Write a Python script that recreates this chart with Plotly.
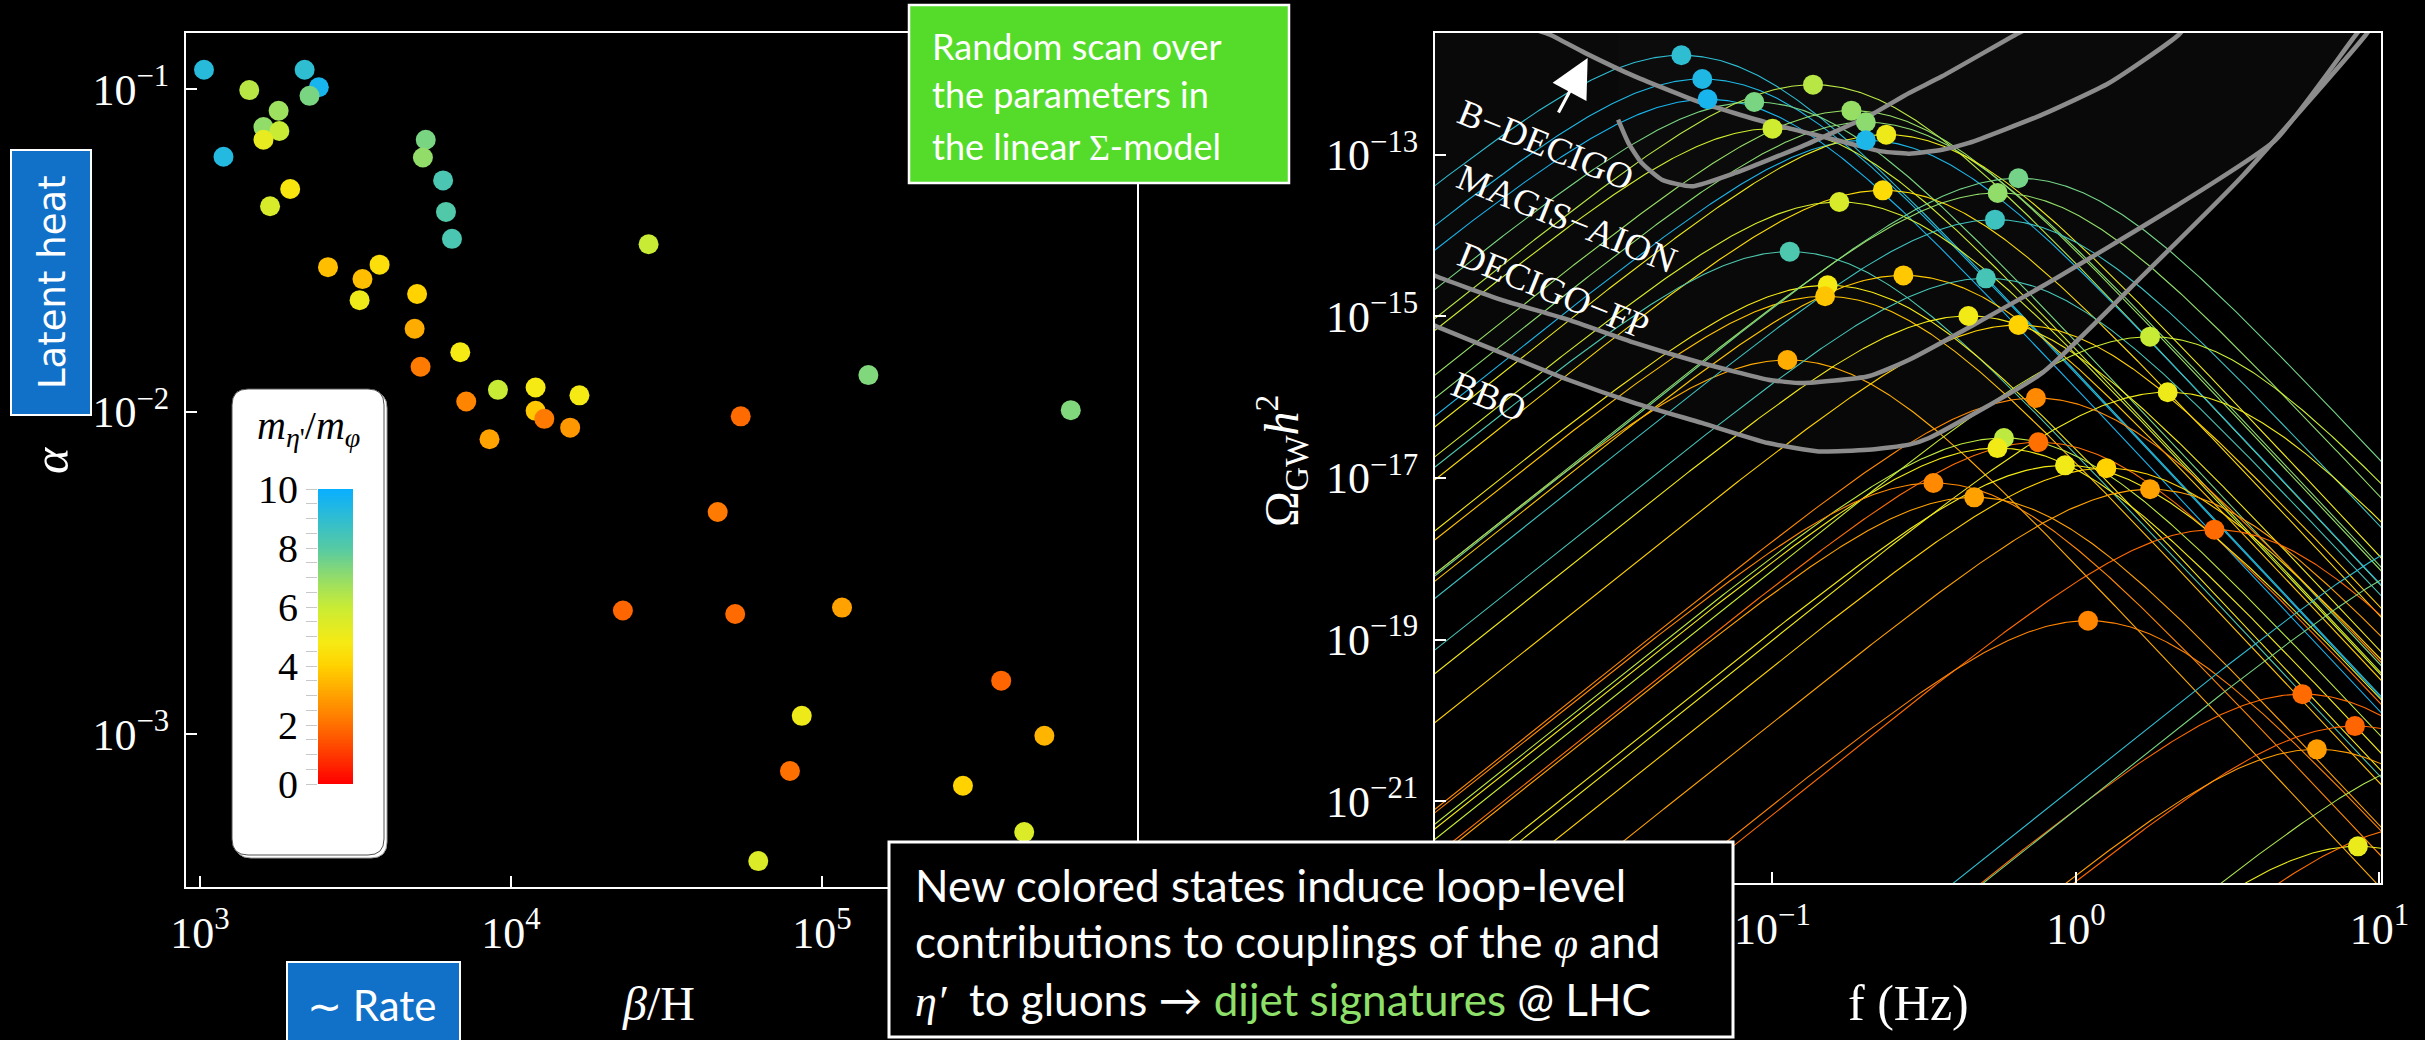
import numpy as np
import plotly.graph_objects as go

W, H = 2425, 1040
def px(x): return x / W
def py(y): return 1 - y / H

# ---------------- left panel : alpha vs beta/H ----------------
beta_H = [1030, 1440, 2170, 2410, 2250, 1790, 1600, 1800, 1600, 1190, 1950, 1680,
          5320, 5210, 6050, 6180, 6460, 27700, 2580, 3780, 3330, 3260, 4990, 4900,
          5120, 6870, 9080, 7180, 12000, 12000, 12800, 16600, 15500, 8530, 22900,
          141000, 54800, 631000, 46200, 52600, 116000, 377000, 86100, 519000, 78900,
          284000, 447000, 62400]
alpha = [0.1151, 0.0995, 0.1151, 0.1016, 0.0955, 0.0859, 0.0764, 0.0743, 0.0698, 0.0618,
         0.0491, 0.0434, 0.0698, 0.0615, 0.0522, 0.0417, 0.0344, 0.0331, 0.0281, 0.0286,
         0.0258, 0.0222, 0.0232, 0.0181, 0.0138, 0.0153, 0.0117, 0.01076, 0.0119, 0.01007,
         0.00951, 0.01125, 0.00893, 0.00822, 0.00242, 0.0130, 0.00968, 0.01012, 0.00489,
         0.00236, 0.00247, 0.001466, 0.00114, 0.000989, 0.000769, 0.000692, 0.000497, 0.000404]
ratio_left = [9.2, 6.3, 9.0, 9.6, 7.4, 6.8, 7.0, 6.0, 5.2, 9.3, 4.6, 5.6,
              7.4, 7.0, 8.3, 8.1, 8.3, 6.0, 3.6, 4.4, 3.6, 5.0, 4.0, 3.2,
              2.2, 4.8, 6.0, 2.4, 4.8, 3.8, 2.2, 4.8, 2.8, 3.0, 1.8,
              7.3, 1.9, 7.3, 2.2, 1.9, 3.0, 1.8, 5.0, 3.4, 2.0,
              4.0, 5.5, 5.5]

# ---------------- right panel : GW spectra peaks ----------------
f_peak = [0.0501, 0.0587, 0.0611, 0.0871, 0.136, 0.100, 0.182, 0.203, 0.203, 0.237,
          0.231, 0.166, 0.114, 0.152, 0.149, 0.270, 0.112, 0.646, 0.552, 0.541,
          0.505, 0.442, 0.646, 1.754, 2.005, 0.738, 0.579, 0.551, 0.752, 0.920,
          1.259, 0.339, 0.462, 1.754, 2.858, 1.096, 5.57, 8.30, 6.22, 8.49,
          25.1, 25.1, 20.0, 14.1]
omega_peak = [1.70e-12, 8.65e-13, 4.85e-13, 4.49e-13, 7.35e-13, 2.10e-13, 3.51e-13, 2.52e-13,
              1.51e-13, 1.77e-13, 3.62e-14, 2.60e-14, 6.31e-15, 2.42e-15, 1.77e-15, 3.21e-15,
              2.88e-16, 5.11e-14, 3.36e-14, 1.57e-14, 2.95e-15, 1.01e-15, 7.80e-16, 5.60e-16,
              1.15e-16, 9.75e-17, 3.12e-17, 2.34e-17, 2.76e-17, 1.43e-17, 1.32e-17, 8.65e-18,
              5.75e-18, 7.23e-18, 2.29e-18, 1.71e-19, 2.11e-20, 8.49e-21, 4.38e-21, 2.76e-22,
              3.55e-18, 1.78e-18, 4.27e-21, 5.0e-22]
ratio_right = [9.0, 9.4, 9.6, 7.4, 6.3, 5.8, 6.9, 7.1, 9.5, 5.0,
               4.3, 5.6, 8.2, 4.8, 3.7, 3.8, 3.2, 7.5, 7.0, 8.6,
               8.4, 4.9, 4.0, 6.0, 5.0, 2.5, 6.2, 4.9, 2.0, 4.9,
               4.0, 2.5, 3.0, 3.0, 1.9, 2.4, 1.9, 1.8, 2.9, 5.1,
               9.0, 7.4, 6.5, 2.0]

# ---------------- experimental sensitivity curves ----------------
bdecigo_f = [0.0166, 0.0185, 0.0241, 0.0352, 0.0585, 0.0968, 0.161, 0.229, 0.282,
             0.362, 0.444, 0.774, 1.285, 2.18, 2.56]
bdecigo_om = [3.5e-12, 3.05e-12, 1.82e-12, 9.3e-13, 4.37e-13, 2.47e-13, 1.53e-13, 1.10e-13, 1.03e-13,
              1.15e-13, 1.40e-13, 3.13e-13, 7.71e-13, 3.05e-12, 6.6e-12]
magis_f = [0.0310, 0.0335, 0.0371, 0.0432, 0.0542, 0.0752, 0.125, 0.207, 0.282, 0.362, 0.632, 0.708]
magis_om = [2.71e-13, 1.40e-13, 7.89e-14, 4.91e-14, 4.06e-14, 5.94e-14, 1.27e-13, 2.99e-13,
            5.81e-13, 9.33e-13, 3.05e-12, 3.8e-12]
decigofp_f = [0.0063, 0.0078, 0.0128, 0.0212, 0.0352, 0.0585, 0.0968, 0.125, 0.207, 0.282,
              0.774, 2.13, 4.55, 8.36, 9.5]
decigofp_om = [4.6e-15, 3.13e-15, 1.60e-15, 9.08e-16, 4.68e-16, 2.64e-16, 1.64e-16, 1.49e-16,
               1.81e-16, 2.90e-16, 2.35e-15, 2.30e-14, 1.53e-13, 3.05e-12, 5.5e-12]
bbo_f = [0.0063, 0.0078, 0.0128, 0.0212, 0.0352, 0.0585, 0.0968, 0.142, 0.207, 0.282,
         0.328, 0.774, 1.652, 3.53, 9.02, 10.2]
bbo_om = [1.07e-15, 7.52e-16, 3.52e-16, 1.64e-16, 8.45e-17, 4.79e-17, 2.70e-17, 2.13e-17,
          2.23e-17, 2.58e-17, 3.12e-17, 1.99e-16, 3.13e-15, 5.41e-14, 3.05e-12, 6.0e-12]
sens_labels = ["B−DECIGO", "MAGIS−AION", "DECIGO−FP", "BBO"]

# colour scale m_eta'/m_phi
cscale = [[0.0, '#FF0000'], [0.1, '#FF3A00'], [0.2, '#FF7000'], [0.3, '#FFA200'],
          [0.4, '#FFD200'], [0.48, '#F6EA14'], [0.6, '#C8EC35'], [0.7, '#92DC6A'],
          [0.8, '#55CAA5'], [0.9, '#2FBDD2'], [1.0, '#08AEFF']]

def hex2rgb(h):
    h = h.lstrip('#')
    return [int(h[i:i+2], 16) for i in (0, 2, 4)]

def colour(v):
    t = min(max(v / 10.0, 0), 1)
    for (t0, c0), (t1, c1) in zip(cscale[:-1], cscale[1:]):
        if t0 <= t <= t1:
            a = (t - t0) / (t1 - t0) if t1 > t0 else 0
            r0, r1 = hex2rgb(c0), hex2rgb(c1)
            r = [round(r0[i] + a * (r1[i] - r0[i])) for i in range(3)]
            return f'rgb({r[0]},{r[1]},{r[2]})'
    return cscale[-1][1]

fig = go.Figure()

# left scatter
fig.add_trace(go.Scatter(x=beta_H, y=alpha, mode='markers', xaxis='x', yaxis='y',
                         marker=dict(size=20, color=ratio_left, colorscale=cscale, cmin=0, cmax=10,
                                     line=dict(width=0)),
                         showlegend=False, hoverinfo='skip'))

# sensitivity fills (region above curves)
TOP = 1e-11
for fx, oy, a in [(bbo_f, bbo_om, 0.03), (decigofp_f, decigofp_om, 0.006),
                  (magis_f, magis_om, 0.01), (bdecigo_f, bdecigo_om, 0.006)]:
    xs = list(fx) + [fx[-1], fx[0], fx[0]]
    ys = list(oy) + [TOP, TOP, oy[0]]
    fig.add_trace(go.Scatter(x=xs, y=ys, mode='lines', fill='toself', xaxis='x2', yaxis='y2',
                             fillcolor=f'rgba(255,255,255,{a})', line=dict(width=0),
                             showlegend=False, hoverinfo='skip'))

# GW spectra
fgrid = np.logspace(-2.3, 1.1, 500)
for fp, op, r in zip(f_peak, omega_peak, ratio_right):
    xx = fgrid / fp
    spec = op * xx**3 * (7.0 / (4.0 + 3.0 * xx**2))**3.5
    fig.add_trace(go.Scatter(x=fgrid, y=spec, mode='lines', xaxis='x2', yaxis='y2',
                             line=dict(color=colour(r), width=1.1),
                             showlegend=False, hoverinfo='skip'))

# sensitivity curves
for fx, oy in [(bdecigo_f, bdecigo_om), (magis_f, magis_om), (decigofp_f, decigofp_om), (bbo_f, bbo_om)]:
    fig.add_trace(go.Scatter(x=fx, y=oy, mode='lines', xaxis='x2', yaxis='y2',
                             line=dict(color='#8c8c8c', width=4.5, shape='spline', smoothing=0.5),
                             showlegend=False, hoverinfo='skip'))

# peak dots
fig.add_trace(go.Scatter(x=f_peak, y=omega_peak, mode='markers', xaxis='x2', yaxis='y2',
                         marker=dict(size=20, color=ratio_right, colorscale=cscale, cmin=0, cmax=10,
                                     line=dict(width=0)),
                         showlegend=False, hoverinfo='skip'))

# colour bar drawn as a heatmap on its own small axes
cb_vals = np.linspace(0, 10, 201)
fig.add_trace(go.Heatmap(z=[[v] for v in cb_vals], x=[0], y=cb_vals, xaxis='x3', yaxis='y3',
                         colorscale=cscale, zmin=0, zmax=10, showscale=False, hoverinfo='skip'))

serif = 'Liberation Serif'
sans = 'Lato'
tickfont = dict(family=serif, size=44, color='white')
axcommon = dict(showgrid=False, zeroline=False, showline=True, linecolor='white', linewidth=2,
                mirror=True, ticks='inside', ticklen=11, tickwidth=2, tickcolor='white',
                tickfont=tickfont, type='log', automargin=False)

fig.update_layout(
    template='none',
    width=W, height=H, margin=dict(l=0, r=0, t=0, b=0, pad=0, autoexpand=False),
    paper_bgcolor='black', plot_bgcolor='rgba(0,0,0,0)',
    xaxis=dict(**axcommon, domain=[px(186), px(1137)], range=[2.955, 6.013], anchor='y',
               tickvals=[1e3, 1e4, 1e5, 1e6], ticklabelstandoff=6,
               ticktext=['10<sup>3</sup>', '10<sup>4</sup>', '10<sup>5</sup>', '']),
    yaxis=dict(**axcommon, domain=[py(887), py(33)], range=[-3.474, -0.825], anchor='x',
               tickvals=[1e-3, 1e-2, 1e-1], ticklabelstandoff=6,
               ticktext=['10<sup>−3</sup>', '10<sup>−2</sup>', '10<sup>−1</sup>']),
    xaxis2=dict(**axcommon, domain=[px(1435), px(2381)], range=[-2.112, 1.005], anchor='y2',
                tickvals=[1e-2, 1e-1, 1, 10], ticklabelstandoff=6,
                ticktext=['', '10<sup>−1</sup>', '10<sup>0</sup>', '10<sup>1</sup>']),
    yaxis2=dict(**axcommon, domain=[py(883), py(33)], range=[-22.013, -11.494], anchor='x2',
                tickvals=[1e-21, 1e-19, 1e-17, 1e-15, 1e-13], ticklabelstandoff=6,
                ticktext=['10<sup>−21</sup>', '10<sup>−19</sup>', '10<sup>−17</sup>',
                          '10<sup>−15</sup>', '10<sup>−13</sup>']),
    xaxis3=dict(domain=[px(318), px(353)], range=[-0.5, 0.5], anchor='y3', visible=False,
                automargin=False),
    yaxis3=dict(domain=[py(784), py(489)], range=[0, 10], anchor='x3', showgrid=False,
                zeroline=False, showline=False, ticks='outside', ticklen=11, tickwidth=1,
                tickcolor='#c8c8c8', tickvals=[0, 2, 4, 6, 8, 10], automargin=False,
                minor=dict(dtick=0.5, ticks='outside', ticklen=11, tickcolor='#c8c8c8', tickwidth=1),
                tickfont=dict(family=serif, size=40, color='black')),
)

# ---------- shapes ----------
def rrect(x0, y0, x1, y1, r):
    rx, ry = r / W, r / H
    X0, X1, Y0, Y1 = px(x0), px(x1), py(y1), py(y0)
    return (f'M {X0+rx},{Y0} L {X1-rx},{Y0} Q {X1},{Y0} {X1},{Y0+ry} L {X1},{Y1-ry} '
            f'Q {X1},{Y1} {X1-rx},{Y1} L {X0+rx},{Y1} Q {X0},{Y1} {X0},{Y1-ry} '
            f'L {X0},{Y0+ry} Q {X0},{Y0} {X0+rx},{Y0} Z')

shapes = [
    dict(type='path', path=rrect(235, 392, 387, 858, 16), xref='paper', yref='paper', layer='below',
         fillcolor='white', line=dict(color='#9a9a9a', width=1)),
    dict(type='path', path=rrect(232, 389, 384, 855, 16), xref='paper', yref='paper', layer='below',
         fillcolor='white', line=dict(color='#555555', width=1)),
]
def box(x0, y0, x1, y1, fill, lw):
    return dict(type='rect', xref='paper', yref='paper', x0=px(x0), x1=px(x1), y0=py(y1), y1=py(y0),
                fillcolor=fill, line=dict(color='white', width=lw), layer='above')
shapes += [box(11, 150, 91, 415, '#1170C8', 2),
           box(287, 962, 460, 1046, '#1170C8', 2),
           box(909, 5, 1289, 183, '#55DC2B', 2.5),
           box(889, 842, 1733, 1037, 'black', 3)]
fig.update_layout(shapes=shapes)

# ---------- annotations ----------
ann = []
def text(x, y, t, size, family=serif, color='white', angle=0, xanchor='center', yanchor='middle'):
    ann.append(dict(x=px(x), y=py(y), xref='paper', yref='paper', text=t, showarrow=False,
                    textangle=angle, xanchor=xanchor, yanchor=yanchor,
                    font=dict(family=family, size=size, color=color)))

text(53, 282, 'Latent heat', 37, family='DejaVu Sans', angle=-90)
text(51, 460, '<i>α</i>', 50, angle=-90)
text(371, 1005, '∼ Rate', 42, family=sans)
text(658, 1003, '<i>β</i>/H', 48)
text(1281, 461, 'Ω<sub>GW</sub><i>h</i><sup>2</sup>', 48, angle=-90)
text(1908, 1003, 'f (Hz)', 50)
text(308, 428, "<i>m</i><sub><i>η</i>'</sub>/<i>m</i><sub><i>φ</i></sub>", 40, color='black')

text(930, 46, 'Random scan over', 36, family=sans, xanchor='left')
text(930, 94, 'the parameters in', 36, family=sans, xanchor='left')
text(930, 146, 'the linear <span style="font-family:Liberation Serif">Σ</span>-model', 36,
     family=sans, xanchor='left')

text(913, 885, 'New colored states induce loop-level', 44, family=sans, xanchor='left')
text(913, 941, 'contributions to couplings of the <span style="font-family:Liberation Serif"><i>φ</i></span> and',
     44, family=sans, xanchor='left')
text(913, 999, '<span style="font-family:Liberation Serif"><i>η′</i></span>  to gluons → '
     '<span style="color:#8EE06A">dijet signatures</span> @ LHC', 44, family=sans, xanchor='left')

for lab, (x, y) in zip(sens_labels, [(1545, 145), (1567, 218), (1554, 290), (1489, 396)]):
    text(x, y, lab, 37, angle=22)

ann.append(dict(x=-1.609, y=-11.803, xref='x2', yref='y2', ax=-30, ay=56, text='',
                showarrow=True, arrowhead=2, arrowsize=2.4, arrowwidth=3.2, arrowcolor='white'))
fig.update_layout(annotations=ann)

fig.write_html('out.html')
